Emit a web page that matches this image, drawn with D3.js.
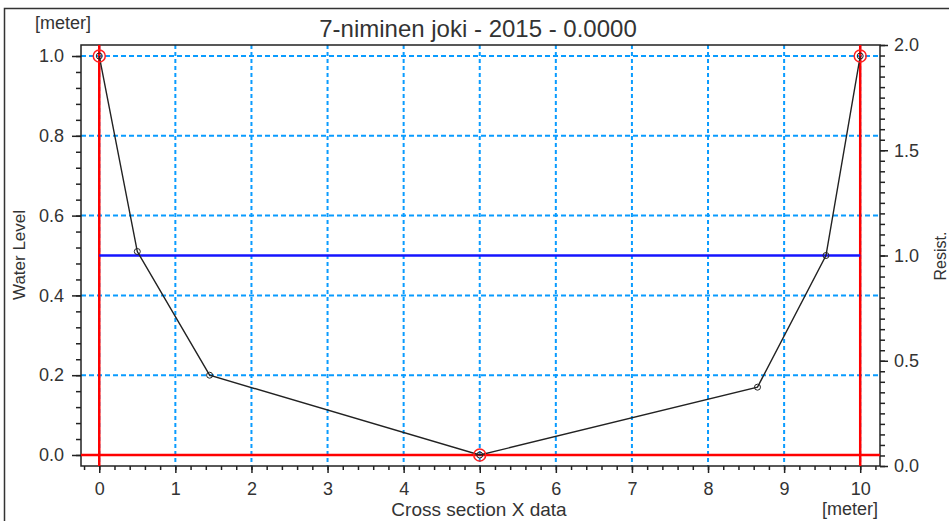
<!DOCTYPE html>
<html>
<head>
<meta charset="utf-8">
<script src="https://cdn.jsdelivr.net/npm/d3@7"></script>
<style>
  body { margin: 0; background: #fff; }
  svg text { font-family: "Liberation Sans", Arial, sans-serif; fill: #333; }
</style>
</head>
<body>
<div id="chart"></div>
<script>
// cross section points
var sectionX = [0, 0.5, 1.45, 5, 8.65, 9.55, 10];
var sectionZ = [1.0, 0.51, 0.2, 0.0, 0.17, 0.5, 1.0];
// marked points (red circles)
var markedX = [0, 5, 10];
var markedZ = [1.0, 0.0, 1.0];
// water level line
var waterLevel = 0.5;
var waterFrom = 0, waterTo = 10;

var xTicks = [0, 1, 2, 3, 4, 5, 6, 7, 8, 9, 10];
var yTicks = [0.0, 0.2, 0.4, 0.6, 0.8, 1.0];
var rTicks = [0.0, 0.5, 1.0, 1.5, 2.0];

var width = 949, height = 521;
// plot box edges (note: "top" is taken by window.top)
var pLeft = 81, pRight = 880, pTop = 45, pBottom = 466;

var svg = d3.select("#chart").append("svg")
    .attr("width", width)
    .attr("height", height);

var x = d3.scaleLinear().domain([-0.24, 10.26]).range([pLeft, pRight]);
var y = d3.scaleLinear().domain([-0.0276, 1.0276]).range([pBottom, pTop]);
var yr = d3.scaleLinear().domain([0, 2]).range([pBottom, pTop]);

// outer frame
svg.append("rect")
    .attr("x", 4.5).attr("y", 8.5)
    .attr("width", 980).attr("height", 540)
    .attr("fill", "none").attr("stroke", "#333").attr("stroke-width", 1.5);

// grid
var grid = svg.append("g").attr("stroke", "#0a9cff").attr("stroke-width", 2);
grid.selectAll(".gx").data(xTicks).enter().append("line")
    .attr("x1", function(d){ return x(d); }).attr("x2", function(d){ return x(d); })
    .attr("y1", pTop).attr("y2", pBottom)
    .attr("stroke-dasharray", "4,3");
grid.selectAll(".gy").data(yTicks).enter().append("line")
    .attr("x1", pLeft).attr("x2", pRight)
    .attr("y1", function(d){ return y(d); }).attr("y2", function(d){ return y(d); })
    .attr("stroke-dasharray", "5,3");

// axes
var minorX = d3.range(-0.2, 10.21, 0.2);
var minorY = d3.range(0, 1.001, 0.04);
var minorR = d3.range(0, 2.001, 0.05);

var xAxis = svg.append("g").attr("transform", "translate(0," + pBottom + ")");
xAxis.call(d3.axisBottom(x).tickValues(minorX).tickSize(4).tickFormat(""));
xAxis.append("g").call(d3.axisBottom(x).tickValues(xTicks).tickSize(7).tickFormat(d3.format("d")));
xAxis.selectAll(".domain").remove();

var yAxis = svg.append("g").attr("transform", "translate(" + pLeft + ",0)");
yAxis.call(d3.axisLeft(y).tickValues(minorY).tickSize(5).tickFormat(""));
yAxis.append("g").call(d3.axisLeft(y).tickValues(yTicks).tickSize(9).tickFormat(d3.format(".1f")));
yAxis.selectAll(".domain").remove();

var rAxis = svg.append("g").attr("transform", "translate(" + pRight + ",0)");
rAxis.call(d3.axisRight(yr).tickValues(minorR).tickSize(5).tickFormat(""));
rAxis.append("g").call(d3.axisRight(yr).tickValues(rTicks).tickSize(8).tickFormat(d3.format(".1f")));
rAxis.selectAll(".domain").remove();

svg.selectAll(".tick line").attr("stroke", "#222").attr("stroke-width", 1.5);
svg.selectAll(".tick text").style("font-size", "18px").attr("fill", "#333");
xAxis.selectAll(".tick text").attr("y", 16);
yAxis.selectAll(".tick text").attr("x", -17);
rAxis.selectAll(".tick text").attr("x", 14);

// plot frame
svg.append("rect")
    .attr("x", pLeft).attr("y", pTop)
    .attr("width", pRight - pLeft).attr("height", pBottom - pTop)
    .attr("fill", "none").attr("stroke", "#222").attr("stroke-width", 1.5);

// red boundary lines
svg.append("line")
    .attr("x1", pLeft).attr("x2", pRight)
    .attr("y1", y(0)).attr("y2", y(0))
    .attr("stroke", "#ff0000").attr("stroke-width", 2.5);
[0, 10].forEach(function(v){
  svg.append("line")
      .attr("x1", x(v)).attr("x2", x(v))
      .attr("y1", pTop).attr("y2", pBottom)
      .attr("stroke", "#ff0000").attr("stroke-width", 2.5);
});

// water level
svg.append("line")
    .attr("x1", x(waterFrom)).attr("x2", x(waterTo))
    .attr("y1", y(waterLevel)).attr("y2", y(waterLevel))
    .attr("stroke", "#1515ff").attr("stroke-width", 2.5);

// cross section line
var pts = sectionX.map(function(d, i){ return [d, sectionZ[i]]; });
svg.append("path")
    .datum(pts)
    .attr("d", d3.line().x(function(d){ return x(d[0]); }).y(function(d){ return y(d[1]); }))
    .attr("fill", "none").attr("stroke", "#222").attr("stroke-width", 1.4);

svg.selectAll(".pt").data(pts).enter().append("circle")
    .attr("cx", function(d){ return x(d[0]); })
    .attr("cy", function(d){ return y(d[1]); })
    .attr("r", 3)
    .attr("fill", "none").attr("stroke", "#222").attr("stroke-width", 1);

svg.selectAll(".mk").data(markedX).enter().append("circle")
    .attr("cx", function(d){ return x(d); })
    .attr("cy", function(d, i){ return y(markedZ[i]); })
    .attr("r", 6)
    .attr("fill", "none").attr("stroke", "#ff2020").attr("stroke-width", 1.5);

// texts
svg.append("text")
    .attr("x", 478).attr("y", 37)
    .attr("text-anchor", "middle")
    .style("font-size", "24px")
    .text("7-niminen joki - 2015 - 0.0000");

svg.append("text")
    .attr("x", 35).attr("y", 29)
    .style("font-size", "18px")
    .text("[meter]");

svg.append("text")
    .attr("x", 850).attr("y", 515)
    .attr("text-anchor", "middle")
    .style("font-size", "18px")
    .text("[meter]");

svg.append("text")
    .attr("x", 479).attr("y", 516)
    .attr("text-anchor", "middle")
    .style("font-size", "19px")
    .text("Cross section X data");

svg.append("text")
    .attr("transform", "translate(25,255) rotate(-90)")
    .attr("text-anchor", "middle")
    .style("font-size", "17px")
    .text("Water Level");

svg.append("text")
    .attr("transform", "translate(946,256) rotate(-90)")
    .attr("text-anchor", "middle")
    .style("font-size", "16px")
    .text("Resist.");
</script>
</body>
</html>
